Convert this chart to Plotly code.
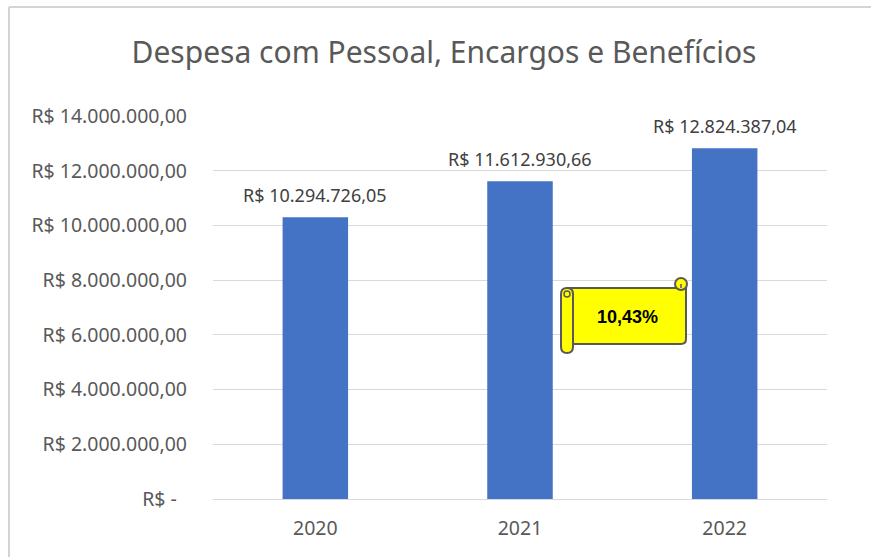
import plotly.graph_objects as go

categories = ["2020", "2021", "2022"]
values = [10294726.05, 11612930.66, 12824387.04]
tick_values = [0, 2000000, 4000000, 6000000, 8000000, 10000000, 12000000, 14000000]
growth_label = "10,43%"
title_text = "Despesa com Pessoal, Encargos e Benefícios"


def brl(v):
    if v == 0:
        return "R$ -\u00a0\u00a0"
    s = f"{v:,.2f}"
    s = s.replace(",", "X").replace(".", ",").replace("X", ".")
    return "R$ " + s


W, H = 871, 557
L, R, T, B = 213, 44, 116, 58
PW, PH = W - L - R, H - T - B


def px(x):
    return (x - L) / PW


def py(y):
    return (H - B - y) / PH


def pt(x, y):
    return f"{px(x):.5f},{py(y):.5f}"


TXT = "#595959"
FONT = "Noto Sans"

fig = go.Figure()
fig.add_trace(go.Bar(
    x=categories, y=values,
    marker=dict(color="#4472C4", line=dict(width=0)),
    hoverinfo="skip",
))

# data labels: category axis positions given by serial index
for i, v in enumerate(values):
    fig.add_annotation(x=i, y=v, xref="x", yref="y", text=brl(v), showarrow=False,
                       xanchor="center", yanchor="bottom", yshift=8,
                       font=dict(family=FONT, size=18, color="#404040"))

shapes = []
# frame lines
shapes.append(dict(type="line", xref="paper", yref="paper",
                   x0=px(9), x1=px(871), y0=py(7), y1=py(7),
                   line=dict(color="#D4D4D4", width=2)))
shapes.append(dict(type="line", xref="paper", yref="paper",
                   x0=px(9), x1=px(9), y0=py(7), y1=py(557),
                   line=dict(color="#D4D4D4", width=2)))

OUT = "#595959"
YEL = "#FFFF00"
# scroll body
body = (f"M {pt(567,288)} L {pt(686,288)} L {pt(686,339)} "
        f"Q {pt(686,344)} {pt(681,344)} L {pt(567,344)} Z")
shapes.append(dict(type="path", xref="paper", yref="paper", path=body,
                   fillcolor=YEL, line=dict(color=OUT, width=2)))
# top-right curl
shapes.append(dict(type="circle", xref="paper", yref="paper",
                   x0=px(675), x1=px(687), y0=py(290), y1=py(278),
                   fillcolor=YEL, line=dict(color=OUT, width=2)))
shapes.append(dict(type="line", xref="paper", yref="paper",
                   x0=px(681), x1=px(681), y0=py(284), y1=py(288),
                   line=dict(color=OUT, width=1.5)))
# left roll
roll = (f"M {pt(561,294)} Q {pt(561,288)} {pt(567,288)} Q {pt(573,288)} {pt(573,294)} "
        f"L {pt(573,347)} Q {pt(573,353)} {pt(567,353)} Q {pt(561,353)} {pt(561,347)} Z")
shapes.append(dict(type="path", xref="paper", yref="paper", path=roll,
                   fillcolor=YEL, line=dict(color=OUT, width=2)))
shapes.append(dict(type="circle", xref="paper", yref="paper",
                   x0=px(564), x1=px(570), y0=py(297), y1=py(291),
                   fillcolor=YEL, line=dict(color=OUT, width=1.5)))

fig.add_annotation(xref="paper", yref="paper", x=px(627), y=py(317),
                   xanchor="center", yanchor="middle",
                   text=f"<b>{growth_label}</b>", showarrow=False,
                   font=dict(family="Liberation Sans", size=18, color="#000000"))

fig.update_layout(
    width=W, height=H,
    margin=dict(l=L, r=R, t=T, b=B),
    paper_bgcolor="white", plot_bgcolor="white",
    showlegend=False,
    bargap=0.68,
    shapes=shapes,
    title=dict(text=title_text, x=px(444), xanchor="center", xref="paper",
               y=1 - 52 / H, yanchor="middle",
               font=dict(family=FONT, size=30, color=TXT)),
    font=dict(family=FONT, color=TXT),
)
fig.update_yaxes(range=[0, 14000000], tickvals=tick_values,
                 ticktext=[brl(v) for v in tick_values],
                 showgrid=True, gridcolor="#D9D9D9", gridwidth=1,
                 zeroline=False, showline=False, ticks="",
                 ticklabelstandoff=25,
                 tickfont=dict(family=FONT, size=19.5, color=TXT))
fig.update_xaxes(type="category", range=[-0.5, 2.5],
                 categoryorder="array", categoryarray=categories,
                 tickmode="array", tickvals=categories, ticktext=categories,
                 showgrid=False, showline=True,
                 linecolor="#D9D9D9", linewidth=1,
                 ticks="", ticklabelstandoff=12,
                 tickfont=dict(family=FONT, size=19.5, color=TXT))

fig.write_html("out.html", config={"displayModeBar": False},
               post_script="document.body.style.margin='0';document.body.style.overflow='hidden';")
